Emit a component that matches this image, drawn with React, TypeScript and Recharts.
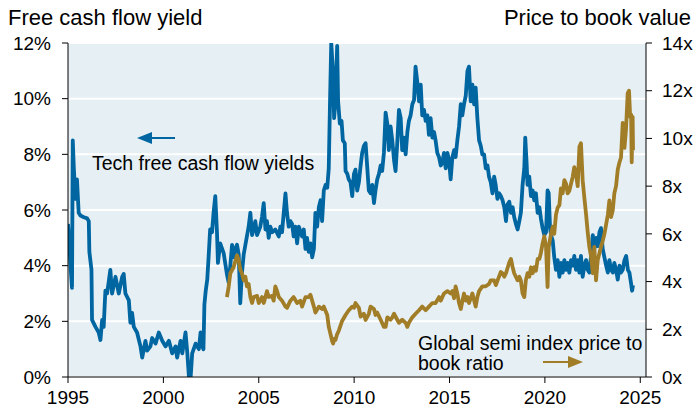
import React from 'react';
import { ComposedChart, Line, XAxis, YAxis, CartesianGrid } from 'recharts';

const fcfYears = [
  1995.0, 1995.05, 1995.15, 1995.21, 1995.25, 1995.3, 1995.385, 1995.47, 1995.56, 1995.65, 1995.8, 1996.0, 1996.09, 1996.12,
  1996.23, 1996.26, 1996.44, 1996.61, 1996.7, 1996.79, 1996.87, 1996.96, 1997.05, 1997.22, 1997.31, 1997.49, 1997.66, 1997.84,
  1997.92, 1998.01, 1998.19, 1998.27, 1998.36, 1998.45, 1998.62, 1998.8, 1998.89, 1999.06, 1999.15, 1999.32, 1999.41, 1999.59,
  1999.76, 1999.94, 2000.11, 2000.29, 2000.46, 2000.64, 2000.72, 2000.9, 2000.99, 2001.16, 2001.25, 2001.34, 2001.43, 2001.51,
  2001.69, 2001.86, 2001.95, 2002.04, 2002.1, 2002.15, 2002.22, 2002.3, 2002.37, 2002.45, 2002.55, 2002.63, 2002.72, 2002.81,
  2002.86, 2002.98, 2003.16, 2003.33, 2003.42, 2003.51, 2003.6, 2003.68, 2003.77, 2003.86, 2003.95, 2004.03, 2004.12, 2004.21,
  2004.3, 2004.47, 2004.56, 2004.65, 2004.73, 2004.82, 2004.91, 2005.08, 2005.17, 2005.26, 2005.35, 2005.43, 2005.52, 2005.61,
  2005.7, 2005.87, 2006.05, 2006.13, 2006.22, 2006.31, 2006.4, 2006.48, 2006.57, 2006.66, 2006.75, 2006.83, 2006.92, 2007.01,
  2007.1, 2007.27, 2007.36, 2007.45, 2007.53, 2007.62, 2007.71, 2007.8, 2007.89, 2007.97, 2008.06, 2008.15, 2008.24, 2008.32,
  2008.41, 2008.5, 2008.59, 2008.67, 2008.73, 2008.8, 2008.88, 2008.95, 2009.02, 2009.11, 2009.16, 2009.25, 2009.34, 2009.41,
  2009.51, 2009.55, 2009.64, 2009.72, 2009.81, 2009.9, 2009.99, 2010.07, 2010.16, 2010.25, 2010.34, 2010.42, 2010.51, 2010.6,
  2010.69, 2010.77, 2010.86, 2010.95, 2011.04, 2011.12, 2011.21, 2011.3, 2011.39, 2011.47, 2011.56, 2011.65, 2011.74, 2011.82,
  2011.91, 2012.0, 2012.09, 2012.17, 2012.26, 2012.35, 2012.44, 2012.52, 2012.61, 2012.7, 2012.79, 2012.87, 2012.96, 2013.05,
  2013.14, 2013.22, 2013.31, 2013.4, 2013.49, 2013.57, 2013.66, 2013.75, 2013.84, 2013.92, 2014.01, 2014.1, 2014.19, 2014.27,
  2014.36, 2014.45, 2014.54, 2014.62, 2014.71, 2014.8, 2014.89, 2014.97, 2015.06, 2015.15, 2015.24, 2015.32, 2015.41, 2015.5,
  2015.59, 2015.67, 2015.76, 2015.85, 2015.94, 2016.02, 2016.11, 2016.2, 2016.29, 2016.37, 2016.46, 2016.55, 2016.64, 2016.72,
  2016.81, 2016.9, 2016.99, 2017.07, 2017.16, 2017.25, 2017.34, 2017.42, 2017.51, 2017.6, 2017.69, 2017.78, 2017.87, 2017.96,
  2018.04, 2018.13, 2018.22, 2018.31, 2018.39, 2018.48, 2018.57, 2018.66, 2018.74, 2018.83, 2018.92, 2018.97, 2019.04, 2019.09,
  2019.18, 2019.27, 2019.36, 2019.44, 2019.53, 2019.62, 2019.71, 2019.79, 2019.88, 2019.97, 2020.06, 2020.14, 2020.2, 2020.27,
  2020.32, 2020.41, 2020.49, 2020.58, 2020.67, 2020.76, 2020.84, 2020.93, 2021.02, 2021.11, 2021.19, 2021.28, 2021.37, 2021.46,
  2021.54, 2021.63, 2021.72, 2021.81, 2021.89, 2021.98, 2022.07, 2022.16, 2022.24, 2022.33, 2022.42, 2022.51, 2022.59, 2022.68,
  2022.77, 2022.86, 2022.94, 2023.03, 2023.12, 2023.21, 2023.3, 2023.38, 2023.47, 2023.56, 2023.64, 2023.73, 2023.82, 2023.91,
  2023.99, 2024.08, 2024.17, 2024.26, 2024.35, 2024.43, 2024.52, 2024.57, 2024.62,
];
const fcfValues = [
  5.5, 5.0, 3.8, 3.2, 8.5, 7.6, 6.4, 7.1, 5.9, 5.8, 5.75, 5.7, 5.6, 4.5,
  3.85, 2.05, 1.8, 1.6, 1.33, 2.05, 1.8, 3.1, 3.0, 3.85, 3.0, 3.6, 3.0, 3.6,
  3.7, 3.0, 2.75, 1.95, 2.3, 1.8, 1.6, 1.1, 0.7, 1.3, 0.95, 1.1, 1.4, 1.2,
  1.6, 1.3, 1.1, 1.3, 0.85, 1.1, 0.7, 1.3, 0.85, 1.6, 0.9, 0.0, 0.0, 0.85,
  1.2, 1.0, 1.6, 1.1, 1.0, 2.6, 3.1, 3.5, 4.3, 5.3, 5.2, 5.9, 6.5, 5.2,
  4.1, 4.8, 4.45, 3.7, 3.4, 4.0, 4.75, 4.3, 4.6, 4.75, 4.4, 2.65, 3.75, 4.4,
  4.75, 5.4, 5.9, 5.1, 5.3, 5.6, 5.1, 5.4, 5.75, 6.25, 5.3, 5.6, 5.0, 5.4,
  5.2, 5.3, 5.05, 5.4, 5.2, 5.9, 6.6, 5.9, 5.4, 5.6, 5.5, 5.05, 5.4, 4.8,
  5.4, 5.05, 5.3, 4.6, 5.0, 4.5, 4.8, 4.3, 4.6, 5.9, 5.4, 6.1, 6.35, 5.6,
  6.7, 6.9, 6.8, 7.5, 9.7, 12.0, 11.1, 9.3, 9.9, 11.9, 9.9, 9.1, 9.2, 8.5,
  8.4, 7.4, 7.3, 7.1, 7.0, 6.5, 7.3, 7.45, 6.7, 7.0, 7.6, 8.05, 8.3, 8.4,
  7.5, 6.7, 6.6, 6.9, 6.25, 6.7, 7.1, 7.3, 7.6, 7.4, 8.05, 9.5, 9.1, 8.15,
  9.0, 8.5, 7.8, 7.4, 8.4, 9.6, 9.3, 8.15, 8.6, 8.0, 8.8, 9.2, 9.4, 9.8,
  9.95, 11.15, 10.6, 9.9, 10.5, 9.4, 9.6, 9.2, 9.4, 8.7, 9.3, 8.6, 8.8, 8.5,
  8.05, 7.9, 7.6, 7.7, 8.05, 7.5, 8.05, 7.8, 7.1, 7.9, 8.15, 7.9, 8.5, 9.0,
  9.8, 9.4, 9.8, 10.1, 11.0, 11.15, 9.9, 10.5, 9.8, 10.4, 9.3, 8.5, 8.3, 8.0,
  8.0, 7.5, 7.6, 7.2, 7.0, 6.6, 7.2, 6.9, 6.4, 6.6, 6.5, 6.35, 6.1, 5.6,
  6.2, 6.3, 5.9, 6.1, 5.75, 5.5, 5.3, 5.6, 5.9, 6.9, 7.5, 8.6, 7.7, 6.9,
  7.2, 6.5, 6.7, 6.35, 6.6, 5.9, 6.1, 5.7, 5.35, 5.1, 5.2, 6.7, 6.6, 5.35,
  5.1, 4.9, 4.3, 3.85, 4.2, 3.6, 4.1, 3.75, 4.2, 3.85, 4.1, 3.75, 4.2, 4.0,
  4.35, 3.85, 4.2, 3.75, 4.35, 3.6, 4.0, 4.2, 3.85, 3.75, 4.35, 5.1, 4.6, 5.0,
  4.7, 5.2, 5.35, 4.6, 4.3, 4.0, 3.75, 4.2, 3.85, 3.75, 4.1, 3.85, 3.5, 4.0,
  3.75, 3.85, 4.2, 4.35, 3.85, 3.75, 3.35, 3.1, 3.3,
];

const pbYears = [
  2003.33, 2003.42, 2003.51, 2003.68, 2003.86, 2003.95, 2004.03, 2004.12, 2004.21, 2004.3, 2004.38, 2004.47, 2004.56, 2004.65,
  2004.73, 2004.91, 2005.0, 2005.17, 2005.26, 2005.35, 2005.43, 2005.52, 2005.7, 2005.78, 2005.87, 2005.96, 2006.05, 2006.22,
  2006.4, 2006.48, 2006.66, 2006.83, 2007.01, 2007.18, 2007.27, 2007.45, 2007.62, 2007.71, 2007.89, 2007.97, 2008.15, 2008.32,
  2008.41, 2008.59, 2008.67, 2008.76, 2008.85, 2008.9, 2008.95, 2009.02, 2009.11, 2009.2, 2009.37, 2009.55, 2009.72, 2009.9,
  2009.99, 2010.07, 2010.25, 2010.34, 2010.51, 2010.6, 2010.77, 2010.86, 2011.04, 2011.12, 2011.21, 2011.39, 2011.56, 2011.65,
  2011.74, 2011.91, 2012.0, 2012.09, 2012.26, 2012.35, 2012.52, 2012.7, 2012.79, 2012.87, 2013.05, 2013.22, 2013.4, 2013.57,
  2013.75, 2013.92, 2014.1, 2014.27, 2014.45, 2014.54, 2014.71, 2014.89, 2015.06, 2015.15, 2015.24, 2015.32, 2015.41, 2015.5,
  2015.59, 2015.76, 2015.85, 2015.94, 2016.02, 2016.2, 2016.37, 2016.46, 2016.55, 2016.72, 2016.9, 2017.07, 2017.16, 2017.34,
  2017.43, 2017.52, 2017.69, 2017.78, 2017.87, 2017.96, 2018.13, 2018.22, 2018.31, 2018.39, 2018.57, 2018.66, 2018.74, 2018.83,
  2018.92, 2019.0, 2019.09, 2019.18, 2019.27, 2019.36, 2019.44, 2019.53, 2019.62, 2019.71, 2019.79, 2019.88, 2019.97, 2020.06,
  2020.14, 2020.2, 2020.32, 2020.41, 2020.49, 2020.58, 2020.67, 2020.76, 2020.84, 2020.93, 2021.02, 2021.11, 2021.19, 2021.28,
  2021.37, 2021.46, 2021.54, 2021.63, 2021.72, 2021.81, 2021.89, 2021.98, 2022.07, 2022.16, 2022.24, 2022.33, 2022.42, 2022.51,
  2022.59, 2022.68, 2022.77, 2022.86, 2022.94, 2023.03, 2023.12, 2023.21, 2023.3, 2023.38, 2023.47, 2023.56, 2023.64, 2023.73,
  2023.82, 2023.91, 2023.99, 2024.08, 2024.17, 2024.25, 2024.34, 2024.41, 2024.47, 2024.52, 2024.55, 2024.6, 2024.62,
];
const pbValues = [
  3.35, 3.77, 4.35, 4.6, 5.1, 4.9, 4.5, 4.35, 4.05, 4.2, 3.8, 3.9, 3.35, 3.1,
  3.35, 3.4, 3.1, 3.35, 3.1, 3.35, 3.6, 3.35, 3.4, 3.2, 3.8, 3.6, 3.35, 3.2,
  2.95, 2.9, 3.2, 3.35, 3.1, 3.2, 2.95, 3.35, 3.35, 3.45, 2.95, 2.7, 2.95, 2.85,
  2.95, 2.6, 2.1, 1.8, 1.5, 1.4, 1.6, 1.55, 1.8, 1.95, 2.35, 2.6, 2.8, 2.95,
  2.9, 3.1, 2.9, 2.53, 2.65, 2.39, 2.65, 2.95, 2.85, 2.6, 2.7, 2.4, 2.1, 2.1,
  2.5, 2.4, 2.5, 2.65, 2.4, 2.27, 2.4, 2.27, 2.1, 2.27, 2.5, 2.65, 2.8, 2.95,
  2.8, 2.95, 3.1, 3.1, 3.35, 3.2, 3.5, 3.6, 3.5, 3.6, 3.3, 3.8, 3.5, 3.1,
  2.85, 3.5, 3.2, 3.35, 3.1, 3.5, 2.95, 3.35, 3.6, 3.8, 3.8, 3.9, 4.05, 4.05,
  3.85, 4.05, 4.4, 4.35, 4.2, 4.35, 4.8, 4.95, 4.6, 4.35, 4.05, 4.2, 4.05, 3.5,
  3.35, 4.05, 4.35, 4.2, 4.6, 4.35, 4.6, 4.45, 4.95, 4.95, 5.2, 5.6, 5.9, 5.45,
  3.77, 5.45, 6.0, 6.3, 6.0, 6.8, 7.1, 7.2, 7.9, 7.7, 8.25, 8.1, 7.7, 7.8,
  8.1, 8.4, 8.8, 8.5, 8.0, 9.65, 9.8, 8.25, 7.5, 6.8, 6.1, 5.45, 5.05, 4.35,
  5.45, 4.05, 4.9, 5.2, 5.45, 5.7, 6.0, 6.4, 6.8, 7.4, 6.7, 7.0, 7.7, 8.0,
  8.7, 9.0, 9.2, 10.65, 9.6, 10.35, 11.9, 12.0, 10.9, 11.0, 9.0, 10.9, 9.5,
];

const xTicks = [1995, 2000, 2005, 2010, 2015, 2020, 2025];
const leftTicks = [0, 2, 4, 6, 8, 10, 12];
const rightTicks = [0, 2, 4, 6, 8, 10, 12, 14];

const fcfData = fcfYears.map((year, i) => ({ year, v: fcfValues[i] }));
const pbData = pbYears.map((year, i) => ({ year, v: pbValues[i] }));

const FONT = '"Liberation Sans", Arial, sans-serif';
const BLUE = '#0066A2';
const GOLD = '#A27D28';

export default function App() {
  const tickStyle = { fill: '#000', fontSize: 19, fontFamily: FONT };
  return (
    <div style={{ position: 'absolute', left: 0, top: 0, width: 696, height: 411, background: '#fff' }}>
      <ComposedChart width={696} height={411} margin={{ top: 43, right: 0, bottom: 0, left: 0 }}>
        <CartesianGrid yAxisId="left" vertical={false} stroke="#ffffff" strokeWidth={2} fill="#E6EFF3" fillOpacity={1} />
        <XAxis
          type="number"
          dataKey="year"
          domain={[1995, 2025.3]}
          ticks={xTicks}
          allowDataOverflow
          height={34}
          tickSize={6}
          tickMargin={8}
          stroke="#000"
          tick={tickStyle}
          interval={0}
        />
        <YAxis
          yAxisId="left"
          domain={[0, 12]}
          ticks={leftTicks}
          width={68}
          tickSize={6}
          tickMargin={11}
          stroke="#000"
          tick={tickStyle}
          tickFormatter={(v: number) => `${v}%`}
          interval={0}
          allowDataOverflow
        />
        <YAxis
          yAxisId="right"
          orientation="right"
          domain={[0, 14]}
          ticks={rightTicks}
          width={50}
          tickSize={6}
          tickMargin={10}
          stroke="#000"
          tick={tickStyle}
          tickFormatter={(v: number) => `${v}x`}
          interval={0}
          allowDataOverflow
        />
        <Line
          yAxisId="left"
          data={fcfData}
          dataKey="v"
          type="linear"
          stroke={BLUE}
          strokeWidth={3.8}
          dot={false}
          activeDot={false}
          isAnimationActive={false}
          strokeLinejoin="round"
        />
        <Line
          yAxisId="right"
          data={pbData}
          dataKey="v"
          type="linear"
          stroke={GOLD}
          strokeWidth={3.8}
          dot={false}
          activeDot={false}
          isAnimationActive={false}
          strokeLinejoin="round"
        />
      </ComposedChart>
      <svg
        width={696}
        height={411}
        style={{ position: 'absolute', left: 0, top: 0, pointerEvents: 'none' }}
        fontFamily={FONT}
      >
        <text x={8} y={25} fontSize={22} fill="#000">Free cash flow yield</text>
        <text x={691} y={25} fontSize={22} fill="#000" textAnchor="end">Price to book value</text>
        <line x1={175} y1={138} x2={148} y2={138} stroke={BLUE} strokeWidth={2} />
        <polygon points="137,138 152,132 152,144" fill={BLUE} />
        <text x={92} y={170} fontSize={19.5} fill="#000">Tech free cash flow yields</text>
        <text x={418} y={350} fontSize={19.5} fill="#000">Global semi index price to</text>
        <text x={418} y={370} fontSize={19.5} fill="#000">book ratio</text>
        <line x1={543} y1={362} x2={572} y2={362} stroke={GOLD} strokeWidth={2} />
        <polygon points="583,362 568,356 568,368" fill={GOLD} />
      </svg>
    </div>
  );
}
